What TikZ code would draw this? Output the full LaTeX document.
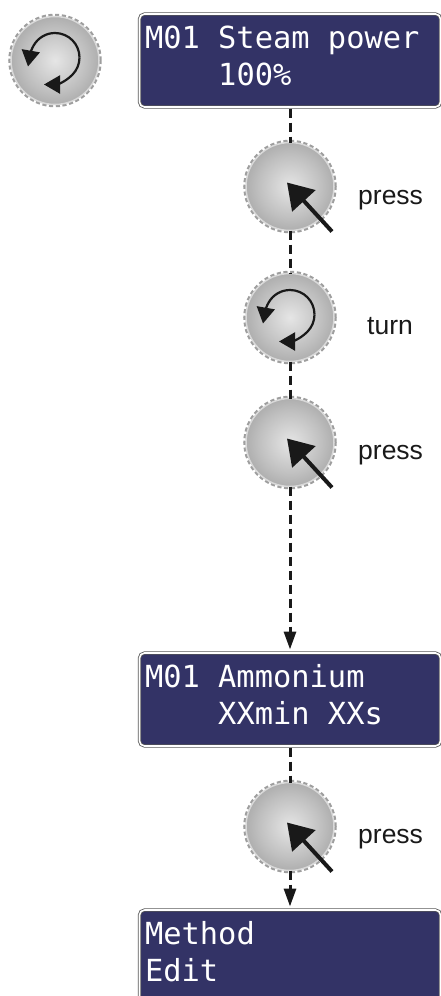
\documentclass[tikz,border=0pt]{standalone}
\usepackage{fontspec}
\setmainfont{Liberation Sans}
\setmonofont{DejaVu Sans Mono}
\usetikzlibrary{arrows.meta,positioning,calc}
\definecolor{lcdblue}{HTML}{333366}
\pgfdeclareradialshading{knobshade}{\pgfpoint{0bp}{0bp}}{color(0bp)=(black!10); color(18bp)=(black!25); color(36bp)=(black!42); color(50bp)=(black!55)}
\tikzset{
	knob/.style={
		circle,
		shading=knobshade,
		draw=black!15,
		line width=1.5pt,
		minimum size=88pt,
		inner sep=0pt,
		outer sep=0pt,
		preaction={draw=black!38,line width=5.5pt,dash pattern=on 4pt off 2.5pt},
	},
	turnknob/.style={
		knob,
		path picture={
			\draw[turnline,shift={(path picture bounding box.center)}] (24.5pt,3pt) arc[start angle=0,end angle=150,radius=24.5pt] to[out=240,in=80] (-27pt,-6pt);
			\draw[turnline,shift={(path picture bounding box.center)}] (24.5pt,3pt) arc[start angle=0,end angle=-45,radius=24.5pt] to[out=225,in=0] (-11pt,-24pt);
		},
	},
	turnline/.style={
		line width=2.2pt,
		draw=black!90,
		-{Triangle[length=16pt,width=18pt]},
	},
	pressline/.style={
		line width=4pt,
		draw=black!90,
		-{Triangle[length=25pt,width=31pt]},
	},
	lcd/.style={
		rectangle,
		rounded corners=5pt,
		draw=black!65,
		line width=0.8pt,
		double=white,
		double distance=1.6pt,
		fill=lcdblue,
		text=white,
		font=\ttfamily\fontsize{30.4pt}{37pt}\selectfont,
		execute at begin node={\spaceskip=18.3pt\relax},
		minimum width=301pt,
		minimum height=93pt,
		text width=290pt,
		text height=23pt,
		text depth=48pt,
		inner sep=0pt,
		outer sep=1.5pt,
		align=left,
	},
	flow/.style={
		line width=3pt,
		draw=black!90,
		dash pattern=on 9pt off 5pt,
	},
	flowend/.style={
		flow,
		shorten >=2pt,
		-{Triangle[length=18pt,width=12pt]},
	},
	hint/.style={
		font=\fontsize{26.5pt}{30pt}\selectfont,
		text=black!90,
		inner sep=0pt,
	},
}

\begin{document}
\begin{tikzpicture}[node distance=30pt]
		\useasboundingbox (0,0) rectangle (441pt,-996pt);

		\node [lcd] (B1) at (290pt,-60.5pt) {M01 Steam power\\~~~~100\%};
		\node [turnknob] (K0) [left=39pt of B1] {};

		\node [knob] (P1) [below=34pt of B1] {};
		\node [turnknob] (T1) [below=43pt of P1] {};
		\node [knob] (P2) [below=37pt of T1] {};
		\node [lcd] (B2) [below=165pt of P2] {M01 Ammonium\\~~~~XXmin XXs};
		\node [knob] (P3) [below=35pt of B2] {};
		\node [lcd] (B3) [below=38pt of P3] {Method\\Edit};

		\node [hint] (L1) [right=24pt of P1,yshift=-14pt] {press};
		\node [hint] (L2) [right=33pt of T1,yshift=-9pt] {turn};
		\node [hint] (L3) [right=24pt of P2,yshift=-13pt] {press};
		\node [hint] (L4) [right=24pt of P3,yshift=-13pt] {press};

		\coordinate (tail-P1) at ($(P1)+(42pt,-45pt)$);
		\coordinate (tip-P1) at ($(P1)+(-3pt,4pt)$);
		\coordinate (tail-P2) at ($(P2)+(42pt,-45pt)$);
		\coordinate (tip-P2) at ($(P2)+(-3pt,4pt)$);
		\coordinate (tail-P3) at ($(P3)+(42pt,-45pt)$);
		\coordinate (tip-P3) at ($(P3)+(-3pt,4pt)$);

		\draw[pressline] (tail-P1) -- (tip-P1);
		\draw[pressline] (tail-P2) -- (tip-P2);
		\draw[pressline] (tail-P3) -- (tip-P3);

		\draw[flow] (B1) -- (P1);
		\draw[flow] (P1) -- (T1);
		\draw[flow] (T1) -- (P2);
		\draw[flowend] (P2) -- (B2);
		\draw[flow] (B2) -- (P3);
		\draw[flowend] (P3) -- (B3);
	\end{tikzpicture}
\end{document}
